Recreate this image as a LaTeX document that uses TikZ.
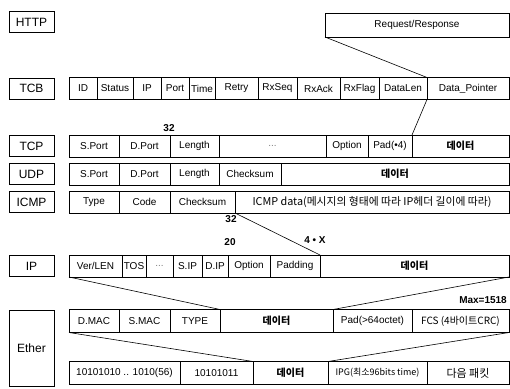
\documentclass[tikz,border=0pt]{standalone}
\usepackage{fontspec}
\setmainfont{Liberation Sans}
\newfontfamily\kr{Noto Sans CJK KR}
\usetikzlibrary{positioning}
\tikzset{
  layer/.style={
    draw, line width=0.7pt, minimum width=45pt, minimum height=21pt,
    inner sep=0pt, outer sep=0pt, font=\fontsize{12}{14}\selectfont
  },
  field/.style={
    draw, line width=0.6pt, minimum height=22pt, inner sep=1pt, outer sep=0pt,
    font=\fontsize{10}{12}\selectfont
  },
  payload/.style={field, font=\kr\bfseries\fontsize{10}{12}\selectfont},
  hangul/.style={field, font=\kr\fontsize{10}{12}\selectfont},
  size/.style={font=\bfseries\fontsize{10}{12}\selectfont, inner sep=0pt},
  map/.style={line width=0.6pt}
}
\begin{document}
\begin{tikzpicture}[x=1pt, y=-1pt]
  \useasboundingbox (0,0) rectangle (510,388);
  % layer names
  \node[layer] (http) at (31.5,22) {HTTP};
  \node[layer] (tcb) at (31.5,88.5) {TCB};
  \node[layer] (tcp) at (31.5,146) {TCP};
  \node[layer] (udp) at (31.5,174) {UDP};
  \node[layer] (icmp) at (31.5,202) {ICMP};
  \node[layer] (ip) at (31.5,266) {IP};
  \node[layer, minimum height=76pt] (ether) at (31.5,348) {Ether};

  % HTTP
  \node[field, minimum width=184pt, minimum height=24pt] (req) at (417,25) {Request/Response};

  % TCB
  \node[field, anchor=west, minimum width=28pt] (tcb-id) at (69,88.5) {ID};
  \node[field, right=0pt of tcb-id, minimum width=36pt] (tcb-st) {Status};
  \node[field, right=0pt of tcb-st, minimum width=28pt] (tcb-ip) {IP};
  \node[field, right=0pt of tcb-ip, minimum width=28pt] (tcb-port) {Port};
  \node[field, right=0pt of tcb-port, minimum width=26pt] (tcb-time) {Time};
  \node[field, right=0pt of tcb-time, minimum width=43pt] (tcb-retry) {Retry};
  \node[field, right=0pt of tcb-retry, minimum width=39pt] (tcb-seq) {RxSeq};
  \node[field, right=0pt of tcb-seq, minimum width=43pt] (tcb-ack) {RxAck};
  \node[field, right=0pt of tcb-ack, minimum width=39pt] (tcb-flag) {RxFlag};
  \node[field, right=0pt of tcb-flag, minimum width=48pt] (tcb-dlen) {DataLen};
  \node[field, right=0pt of tcb-dlen, minimum width=82pt] (tcb-ptr) {Data\_Pointer};

  % TCP
  \node[field, anchor=west, minimum width=50pt] (tcp-sp) at (69,146) {S.Port};
  \node[field, right=0pt of tcp-sp, minimum width=51pt] (tcp-dp) {D.Port};
  \node[field, right=0pt of tcp-dp, minimum width=49pt] (tcp-len) {Length};
  \node[field, right=0pt of tcp-len, minimum width=107pt, text=black!50] (tcp-etc) {...};
  \node[field, right=0pt of tcp-etc, minimum width=42pt] (tcp-opt) {Option};
  \node[field, right=0pt of tcp-opt, minimum width=44pt] (tcp-pad) {Pad(•4)};
  \node[payload, right=0pt of tcp-pad, minimum width=97pt] (tcp-data) {데이터};

  % UDP
  \node[field, anchor=west, minimum width=50pt] (udp-sp) at (69,174) {S.Port};
  \node[field, right=0pt of udp-sp, minimum width=51pt] (udp-dp) {D.Port};
  \node[field, right=0pt of udp-dp, minimum width=49pt] (udp-len) {Length};
  \node[field, right=0pt of udp-len, minimum width=62pt] (udp-ck) {Checksum};
  \node[payload, right=0pt of udp-ck, minimum width=228pt] (udp-data) {데이터};

  % ICMP
  \node[field, anchor=west, minimum width=50pt] (icmp-type) at (69,202) {Type};
  \node[field, right=0pt of icmp-type, minimum width=51pt] (icmp-code) {Code};
  \node[field, right=0pt of icmp-code, minimum width=65pt] (icmp-ck) {Checksum};
  \node[hangul, right=0pt of icmp-ck, minimum width=274pt, font=\kr\fontsize{10.8}{12}\selectfont] (icmp-data) {ICMP data(메시지의 형태에 따라 IP헤더 길이에 따라)};

  % IP
  \node[field, anchor=west, minimum width=53pt] (ip-ver) at (69,266) {Ver/LEN};
  \node[field, right=0pt of ip-ver, minimum width=24pt] (ip-tos) {TOS};
  \node[field, right=0pt of ip-tos, minimum width=27pt, text=black!50] (ip-etc) {...};
  \node[field, right=0pt of ip-etc, minimum width=29pt] (ip-src) {S.IP};
  \node[field, right=0pt of ip-src, minimum width=26pt] (ip-dst) {D.IP};
  \node[field, right=0pt of ip-dst, minimum width=42pt] (ip-opt) {Option};
  \node[field, right=0pt of ip-opt, minimum width=50pt] (ip-pad) {Padding};
  \node[payload, right=0pt of ip-pad, minimum width=189pt] (ip-data) {데이터};

  % Ethernet frame
  \node[field, anchor=west, minimum width=50pt, minimum height=23pt] (eth-dmac) at (69,321) {D.MAC};
  \node[field, right=0pt of eth-dmac, minimum width=51pt, minimum height=23pt] (eth-smac) {S.MAC};
  \node[field, right=0pt of eth-smac, minimum width=50pt, minimum height=23pt] (eth-type) {TYPE};
  \node[payload, right=0pt of eth-type, minimum width=113pt, minimum height=23pt] (eth-data) {데이터};
  \node[field, right=0pt of eth-data, minimum width=79pt, minimum height=23pt] (eth-pad) {Pad(>64octet)};
  \node[hangul, right=0pt of eth-pad, minimum width=97pt, minimum height=23pt] (eth-fcs) {FCS (4바이트CRC)};

  % on the wire
  \node[field, anchor=west, minimum width=111pt, minimum height=23pt] (pre-bits) at (69,373) {10101010 .. 1010(56)};
  \node[field, right=0pt of pre-bits, minimum width=73pt, minimum height=23pt] (pre-sfd) {10101011};
  \node[payload, right=0pt of pre-sfd, minimum width=75pt, minimum height=23pt] (pre-data) {데이터};
  \node[hangul, right=0pt of pre-data, minimum width=99pt, minimum height=23pt, font=\kr\fontsize{9}{11}\selectfont] (pre-ipg) {IPG(최소96bits time)};
  \node[hangul, right=0pt of pre-ipg, minimum width=82pt, minimum height=23pt, font=\kr\fontsize{11}{13}\selectfont] (pre-next) {다음 패킷};

  % sizes
  \node[size] (tcp-size) at (169,128) {32};
  \node[size] (icmp-size) at (231,219) {32};
  \node[size] (ip-hdr) at (230,242) {20};
  \node[size] (ip-pads) at (315,240) {4 • X};
  \node[size, anchor=east] (eth-max) at (507,300) {Max=1518};

  % mapping lines
  \draw[map] (req.south west) -- (tcb-dlen.north east);
  \draw[map] (tcb-dlen.south east) -- (tcp-pad.north east);
  \draw[map] (icmp-ck.south east) -- (ip-pad.north east);
  \draw[map] (ip-ver.south west) -- (eth-type.north east);
  \draw[map] (ip-data.south east) -- (eth-pad.north west);
  \draw[map] (eth-dmac.south west) -- (pre-sfd.north east);
  \draw[map] (eth-fcs.south east) -- (pre-data.north east);
\end{tikzpicture}
\end{document}
